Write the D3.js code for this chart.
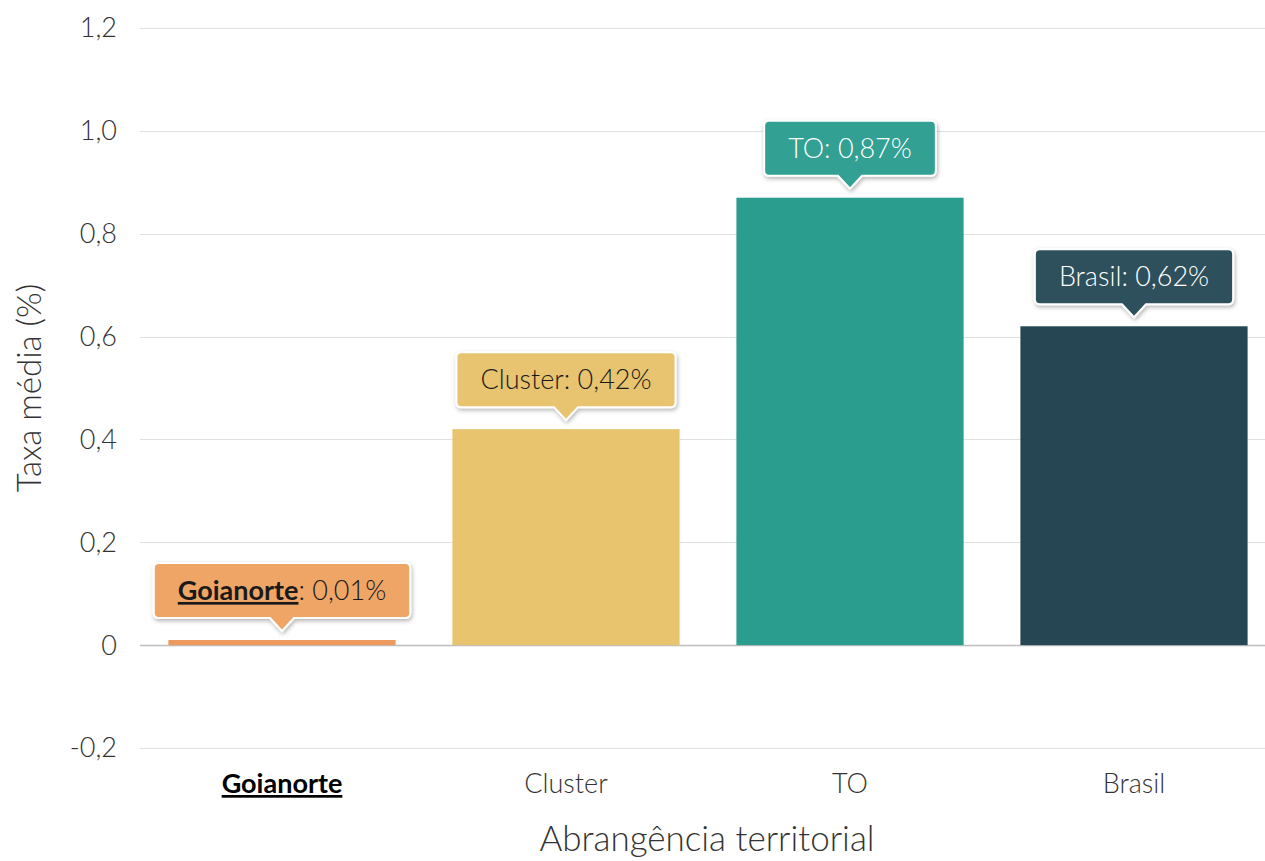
<!DOCTYPE html>
<html>
<head>
<meta charset="utf-8">
<script src="https://cdn.jsdelivr.net/npm/d3@7"></script>
<style>
  body { margin: 0; background: #fff; }
  svg { font-family: "Lato Light", Lato, "Open Sans", sans-serif; }
  .bold { font-family: Lato, "Open Sans", sans-serif; font-weight: 700; text-decoration: underline; }
</style>
</head>
<body>
<div id="chart"></div>
<script>
// Dados
var categories = ["Goianorte", "Cluster", "TO", "Brasil"];
var values = [0.01, 0.42, 0.87, 0.62];
var valueLabels = ["0,01%", "0,42%", "0,87%", "0,62%"];
var yTicks = [-0.2, 0, 0.2, 0.4, 0.6, 0.8, 1.0, 1.2];
var barColors = ["#ec9a5e", "#e8c46e", "#2a9d8f", "#264653"];
var boxColors = ["#efa566", "#e9c470", "#31a092", "#2f505c"];
var boxText = ["#1a1a1a", "#1a1a1a", "#ffffff", "#ffffff"];

var width = 1265;
var height = 861;
var margin = {top: 28, right: 0, bottom: 113, left: 140};

var svg = d3.select("#chart").append("svg")
    .attr("width", width)
    .attr("height", height);

var defs = svg.append("defs");
var shadow = defs.append("filter").attr("id", "shadow")
    .attr("x", "-20%").attr("y", "-30%").attr("width", "140%").attr("height", "170%");
shadow.append("feDropShadow")
    .attr("dx", 1).attr("dy", 2).attr("stdDeviation", 2)
    .attr("flood-color", "#000").attr("flood-opacity", 0.3);

var x = d3.scaleBand()
    .domain(categories)
    .range([margin.left, margin.left + 1136])
    .paddingInner(0.2)
    .paddingOuter(0.1);

var y = d3.scaleLinear()
    .domain([-0.2, 1.2])
    .range([748, 28]);

var fmt = function(d) {
    return d === 0 ? "0" : d3.format(".1f")(d).replace(".", ",").replace("\u2212", "-");
};

// Grade
svg.append("g")
    .selectAll("line")
    .data(yTicks)
    .join("line")
    .attr("x1", margin.left)
    .attr("x2", width)
    .attr("y1", function(d) { return Math.round(y(d)) + 0.5; })
    .attr("y2", function(d) { return Math.round(y(d)) + 0.5; })
    .attr("stroke", function(d) { return d === 0 ? "#bdbdbd" : "#e0e0e0"; })
    .attr("stroke-width", function(d) { return d === 0 ? 1.5 : 1.2; });

// Eixo Y
svg.append("g")
    .selectAll("text")
    .data(yTicks)
    .join("text")
    .attr("x", 117)
    .attr("y", function(d) { return y(d); })
    .attr("dy", "0.35em")
    .attr("text-anchor", "end")
    .attr("fill", "#333")
    .style("font-size", "27px")
    .text(fmt);

svg.append("text")
    .attr("transform", "translate(41," + y(0.5) + ") rotate(-90)")
    .attr("text-anchor", "middle")
    .attr("fill", "#333")
    .style("font-size", "33px")
    .text("Taxa média (%)");

// Barras
svg.append("g")
    .selectAll("rect")
    .data(categories)
    .join("rect")
    .attr("x", function(d) { return x(d); })
    .attr("width", x.bandwidth())
    .attr("y", function(d, i) { return y(values[i]); })
    .attr("height", function(d, i) { return y(0) - y(values[i]); })
    .attr("fill", function(d, i) { return barColors[i]; });

// Eixo X
svg.append("g")
    .selectAll("text")
    .data(categories)
    .join("text")
    .attr("class", function(d, i) { return i === 0 ? "bold" : null; })
    .attr("x", function(d) { return x(d) + x.bandwidth() / 2; })
    .attr("y", 793)
    .attr("text-anchor", "middle")
    .style("font-size", "27px")
    .attr("fill", function(d, i) { return i === 0 ? "#000" : "#333"; })
    .text(function(d) { return d; });

svg.append("text")
    .attr("x", 707)
    .attr("y", 851)
    .attr("text-anchor", "middle")
    .attr("fill", "#333")
    .style("font-size", "35px")
    .text("Abrangência territorial");

// Rótulos (tooltips)
var tips = svg.append("g")
    .selectAll("g")
    .data(categories)
    .join("g")
    .attr("transform", function(d, i) {
        return "translate(" + (x(d) + x.bandwidth() / 2) + "," + (y(values[i]) - 9) + ")";
    });

var tipText = tips.append("text")
    .attr("text-anchor", "middle")
    .style("font-size", "27px")
    .attr("fill", function(d, i) { return boxText[i]; });

tipText.append("tspan")
    .attr("class", function(d, i) { return i === 0 ? "bold" : null; })
    .text(function(d) { return d; });
tipText.append("tspan")
    .text(function(d, i) { return ": " + valueLabels[i]; });

tips.each(function(d, i) {
    var g = d3.select(this);
    var bw = g.select("text").node().getBBox().width + 48;
    var bh = 55, ah = 13, aw = 12, r = 5;
    var top = -ah - bh, l = -bw / 2, rr = bw / 2, b = -ah;
    var p = "M" + (l + r) + "," + top +
        "H" + (rr - r) + "Q" + rr + "," + top + " " + rr + "," + (top + r) +
        "V" + (b - r) + "Q" + rr + "," + b + " " + (rr - r) + "," + b +
        "H" + aw + "L0,0L" + (-aw) + "," + b +
        "H" + (l + r) + "Q" + l + "," + b + " " + l + "," + (b - r) +
        "V" + (top + r) + "Q" + l + "," + top + " " + (l + r) + "," + top + "Z";
    g.insert("path", "text")
        .attr("d", p)
        .attr("fill", boxColors[i])
        .attr("stroke", "#fff")
        .attr("stroke-width", 2)
        .attr("filter", "url(#shadow)");
    g.select("text").attr("y", top + bh / 2).attr("dy", "0.35em");
});
</script>
</body>
</html>
